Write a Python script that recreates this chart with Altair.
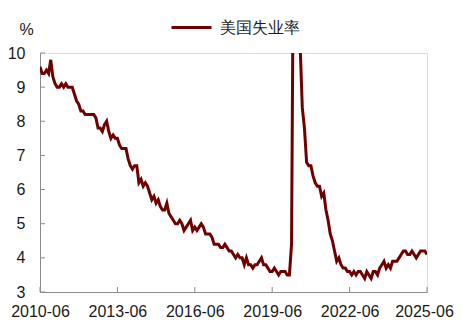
import altair as alt
import pandas as pd

series_name = "美国失业率"
tick_labels = ["2010-06", "2013-06", "2016-06", "2019-06", "2022-06", "2025-06"]
y_ticks = [3, 4, 5, 6, 7, 8, 9, 10]

# Monthly unemployment rate (%), starting 2010-06
r2010 = [9.6, 9.4, 9.4, 9.5, 9.4, 9.8, 9.3]
r2011 = [9.1, 9.0, 9.0, 9.1, 9.0, 9.1, 9.0, 9.0, 9.0, 8.8, 8.6, 8.5]
r2012 = [8.3, 8.3, 8.2, 8.2, 8.2, 8.2, 8.2, 8.1, 7.8, 7.8, 7.7, 7.9]
r2013 = [8.0, 7.7, 7.5, 7.6, 7.5, 7.5, 7.3, 7.2, 7.2, 7.2, 6.9, 6.7]
r2014 = [6.6, 6.7, 6.7, 6.2, 6.3, 6.1, 6.2, 6.1, 5.9, 5.7, 5.8, 5.6]
r2015 = [5.7, 5.5, 5.4, 5.4, 5.6, 5.3, 5.2, 5.1, 5.0, 5.0, 5.1, 5.0]
r2016 = [4.8, 4.9, 5.0, 5.1, 4.8, 4.9, 4.8, 4.9, 5.0, 4.9, 4.7, 4.7]
r2017 = [4.7, 4.6, 4.4, 4.4, 4.4, 4.3, 4.3, 4.4, 4.3, 4.2, 4.2, 4.1]
r2018 = [4.0, 4.1, 4.0, 4.0, 3.8, 4.0, 3.8, 3.8, 3.7, 3.8, 3.8, 3.9]
r2019 = [4.0, 3.8, 3.8, 3.7, 3.6, 3.6, 3.7, 3.6, 3.5, 3.6, 3.6, 3.6]
r2020 = [3.5, 3.5, 4.4, 14.8, 13.2, 11.0, 10.2, 8.4, 7.8, 6.8, 6.7, 6.7]
r2021 = [6.4, 6.2, 6.1, 6.1, 5.8, 5.9, 5.4, 5.1, 4.7, 4.5, 4.2, 3.9]
r2022 = [4.0, 3.8, 3.7, 3.7, 3.6, 3.6, 3.5, 3.6, 3.5, 3.6, 3.6, 3.5]
r2023 = [3.4, 3.6, 3.5, 3.4, 3.6, 3.6, 3.5, 3.7, 3.8, 3.9, 3.7, 3.8]
r2024 = [3.7, 3.9, 3.9, 3.9, 4.0, 4.1, 4.2, 4.2, 4.1, 4.1, 4.2, 4.1]
r2025 = [4.0, 4.1, 4.2, 4.2, 4.2, 4.1]

rates = (r2010 + r2011 + r2012 + r2013 + r2014 + r2015 + r2016 + r2017 +
         r2018 + r2019 + r2020 + r2021 + r2022 + r2023 + r2024 + r2025)

df = pd.DataFrame({"idx": list(range(len(rates))), "rate": rates, "series": series_name})
step = 36
xt = pd.DataFrame({"idx": [i * step for i in range(len(tick_labels))]})
yt = pd.DataFrame({"rate": y_ticks})

W, H = 387, 239
GRAY = "#8c8c8c"
FONT = "Liberation Sans"
TXT = "#1a1a1a"

label_expr = "[" + ",".join("'%s'" % s for s in tick_labels) + "][round(datum.value/%d)]" % step
last_tick = step * (len(tick_labels) - 1)

xscale = alt.Scale(domain=[0, 180], nice=False, zero=False)
yscale = alt.Scale(domain=[3, 10], nice=False, zero=False)

xaxis = alt.Axis(values=xt["idx"].tolist(), labelExpr=label_expr, title=None,
                 ticks=False, grid=False, domainColor=GRAY, labelPadding=11,
                 labelFontSize=16, labelColor=TXT, labelFont=FONT,
                 labelOverlap=False, labelFlush=False,
                 labelOffset={"condition": {"test": "datum.value == %d" % last_tick,
                                            "value": -3}, "value": 0})
yaxis = alt.Axis(values=y_ticks, title="%", titleAngle=0, titleX=-14, titleY=-24,
                 titleAlign="center", titleBaseline="middle", titleFontSize=16,
                 titleFontWeight="normal", titleFont=FONT, titleColor=TXT,
                 ticks=False, grid=False, domainColor=GRAY, labelPadding=15,
                 labelFontSize=16, labelColor=TXT, labelFont=FONT,
                 labelOverlap=False, labelFlush=False)

line = alt.Chart(df).mark_line(strokeWidth=3, clip=True).encode(
    x=alt.X("idx:Q", scale=xscale, axis=xaxis),
    y=alt.Y("rate:Q", scale=yscale, axis=yaxis),
    color=alt.Color("series:N", scale=alt.Scale(domain=[series_name], range=["#700000"]),
                    legend=alt.Legend(title=None, orient="none", legendX=130, legendY=-47,
                                      symbolType="stroke", symbolSize=1600, symbolStrokeWidth=3,
                                      labelFontSize=16, labelFont=FONT, labelColor=TXT,
                                      labelOffset=7, padding=0)),
)

xticks = alt.Chart(xt).mark_rule(color=GRAY, strokeWidth=1).encode(
    x=alt.X("idx:Q", scale=xscale, axis=xaxis), y=alt.value(H), y2=alt.value(H - 5))
yticks = alt.Chart(yt).mark_rule(color=GRAY, strokeWidth=1).encode(
    y=alt.Y("rate:Q", scale=yscale, axis=yaxis), x=alt.value(0), x2=alt.value(5))

chart = alt.layer(line, xticks, yticks).properties(
    width=W, height=H,
    autosize=alt.AutoSizeParams(type="none"),
    padding={"left": 32, "top": 45, "right": 27, "bottom": 26},
).configure_view(stroke=None).configure(background="white")

chart.save("out.html", embed_options={"renderer": "svg", "actions": False})
